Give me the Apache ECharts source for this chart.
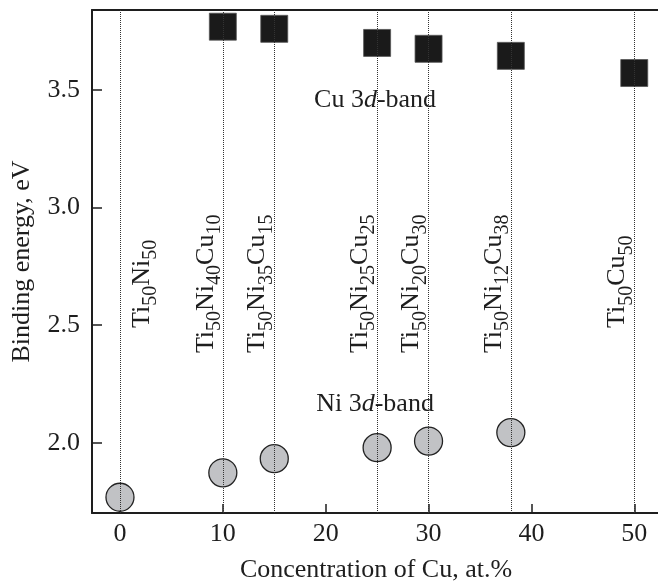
<!DOCTYPE html>
<html><head><meta charset="utf-8">
<script src="https://cdn.jsdelivr.net/npm/echarts@6/dist/echarts.min.js"></script>
<style>html,body{margin:0;padding:0;background:#fff;overflow:hidden}#c{width:658px;height:584px}</style>
</head><body><div id="c"></div>
<script>
// ---- data ----
const cuX = [10, 15, 25, 30, 38, 50];
const cuY = [3.769, 3.760, 3.700, 3.675, 3.645, 3.572];
const niX = [0, 10, 15, 25, 30, 38];
const niY = [1.768, 1.872, 1.932, 1.979, 2.007, 2.043];
const xTicks = [0, 10, 20, 30, 40, 50];
const yTicks = [2.0, 2.5, 3.0, 3.5];
const alloyX = [0, 10, 15, 25, 30, 38, 50];
const alloyNames = [
  [['Ti', '50'], ['Ni', '50']],
  [['Ti', '50'], ['Ni', '40'], ['Cu', '10']],
  [['Ti', '50'], ['Ni', '35'], ['Cu', '15']],
  [['Ti', '50'], ['Ni', '25'], ['Cu', '25']],
  [['Ti', '50'], ['Ni', '20'], ['Cu', '30']],
  [['Ti', '50'], ['Ni', '12'], ['Cu', '38']],
  [['Ti', '50'], ['Cu', '50']]
];
const bandNames = [['Cu 3', 'd', '-band'], ['Ni 3', 'd', '-band']];

const FONT = 'Liberation Serif';
const INK = '#1e1e1e';
const PX_PER_X = 10.286; // horizontal scale, used only to nudge labels beside their guide lines

const chart = echarts.init(document.getElementById('c'), null, { renderer: 'canvas' });
const zip = (a, b) => a.map((v, i) => [v, b[i]]);

// label anchors (data coordinates)
const labelBottomY = [2.488, 2.381, 2.381, 2.381, 2.381, 2.381, 2.488];
const alloyLabelData = alloyNames.map((parts, i) => ({
  value: [alloyX[i] + (i === 0 ? 21 : -18) / PX_PER_X, labelBottomY[i]],
  label: { formatter: parts.map(([el, n]) => '{n|' + el + '}{s|' + n + '}').join('') }
}));
const bandPos = [[24.8, 3.457], [24.8, 2.165]];
const bandLabelData = bandNames.map((b, i) => ({
  value: bandPos[i],
  label: { formatter: '{n|' + b[0] + '}{i|' + b[1] + '}{n|' + b[2] + '}' }
}));

chart.setOption({
  animation: false,
  backgroundColor: '#fff',
  grid: { left: 92, top: 10, right: -10, bottom: 71, outerBoundsMode: 'none', show: false },
  xAxis: [{
    type: 'value', min: -2.72, max: 53.28,
    name: 'Concentration of Cu, at.%', nameLocation: 'middle', nameGap: 44,
    nameTextStyle: { fontFamily: FONT, fontSize: 26, color: INK, padding: [0, 8, 0, 0] },
    axisLine: { show: true, onZero: false, lineStyle: { color: INK, width: 2 } },
    axisTick: { show: true, inside: true, length: 9, customValues: xTicks, lineStyle: { color: INK, width: 1.5 } },
    axisLabel: { customValues: xTicks, fontFamily: FONT, fontSize: 26, color: INK, margin: 8 },
    splitLine: { show: false }
  }, {
    type: 'value', position: 'top', min: -2.72, max: 53.28,
    axisLine: { show: true, onZero: false, lineStyle: { color: INK, width: 2 } },
    axisTick: { show: false }, axisLabel: { show: false }, splitLine: { show: false }
  }],
  yAxis: {
    type: 'value', min: 1.701, max: 3.840,
    name: 'Binding energy, eV', nameLocation: 'middle', nameGap: 57,
    nameTextStyle: { fontFamily: FONT, fontSize: 26, color: INK },
    axisLine: { show: true, onZero: false, lineStyle: { color: INK, width: 2 } },
    axisTick: { show: true, inside: true, length: 10, customValues: yTicks, lineStyle: { color: INK, width: 1.5 } },
    axisLabel: { customValues: yTicks, fontFamily: FONT, fontSize: 26, color: INK, margin: 12,
      formatter: v => v.toFixed(1) },
    splitLine: { show: false }
  },
  series: [
    {
      name: 'Ni 3d-band', type: 'scatter', z: 2,
      symbol: 'circle', symbolSize: 28,
      itemStyle: { color: '#c1c2c5', borderColor: '#222', borderWidth: 1.3, opacity: 1 },
      data: zip(niX, niY)
    },
    {
      name: 'Cu 3d-band', type: 'scatter', z: 2,
      symbol: 'rect', symbolSize: 27,
      itemStyle: { color: '#1a1a1a', borderColor: '#555', borderWidth: 0.8, opacity: 1 },
      data: zip(cuX, cuY)
    },
    {
      name: 'guides', type: 'scatter', z: 5, data: [],
      markLine: {
        silent: true, symbol: ['none', 'none'],
        label: { show: false },
        lineStyle: { type: 'dotted', color: '#333', width: 1 },
        data: alloyX.map(x => ({ xAxis: x }))
      }
    },
    {
      name: 'alloy-labels', type: 'scatter', z: 10, silent: true,
      symbol: 'circle', symbolSize: 0,
      itemStyle: { opacity: 1 },
      data: alloyLabelData,
      label: {
        show: true, position: 'inside', rotate: 90,
        align: 'left', verticalAlign: 'middle', opacity: 1,
        rich: {
          n: { fontFamily: FONT, fontSize: 26, lineHeight: 24, color: INK, verticalAlign: 'top' },
          s: { fontFamily: FONT, fontSize: 20, lineHeight: 18, color: INK, verticalAlign: 'top', padding: [12, 0, 0, 0] }
        }
      }
    },
    {
      name: 'band-labels', type: 'scatter', z: 10, silent: true,
      symbol: 'circle', symbolSize: 0,
      itemStyle: { opacity: 1 },
      data: bandLabelData,
      label: {
        show: true, position: 'inside', align: 'center', verticalAlign: 'middle', opacity: 1,
        rich: {
          n: { fontFamily: FONT, fontSize: 26, color: INK },
          i: { fontFamily: FONT, fontSize: 26, color: INK, fontStyle: 'italic' }
        }
      }
    }
  ]
});
</script>
</body></html>
